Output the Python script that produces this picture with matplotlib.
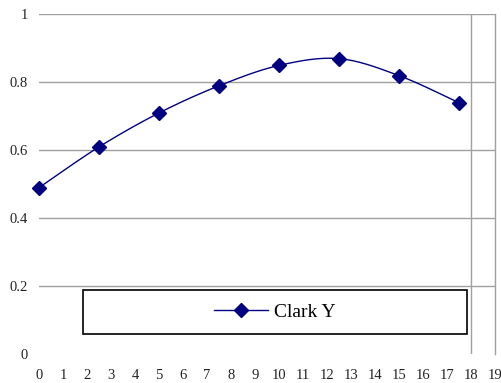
import numpy as np
import matplotlib.pyplot as plt
from matplotlib.patches import Rectangle

# Lift coefficient curve for the Clark Y section
x_vals = [0, 2.5, 5, 7.5, 10, 12.5, 15, 17.5]
y_vals = [0.49, 0.61, 0.71, 0.79, 0.85, 0.87, 0.82, 0.74]
series_name = "Clark Y"

x_ticks = list(range(0, 20))
y_ticks = [0, 0.2, 0.4, 0.6, 0.8, 1]
y_tick_labels = ["0", "0.2", "0.4", "0.6", "0.8", "1"]

navy = "#000080"
grid_gray = "#a0a0a0"


def smooth_curve(xs, ys, steps=30):
    # Catmull-Rom style smoothing between the given points
    xs = np.asarray(xs, float)
    ys = np.asarray(ys, float)
    px = np.concatenate([[xs[0]], xs, [xs[-1]]])
    py = np.concatenate([[ys[0]], ys, [ys[-1]]])
    out_x, out_y = [], []
    t = np.linspace(0, 1, steps)
    for i in range(1, len(px) - 2):
        p0, p1, p2, p3 = (np.array([px[k], py[k]]) for k in (i - 1, i, i + 1, i + 2))
        c1 = p1 + (p2 - p0) / 6
        c2 = p2 - (p3 - p1) / 6
        b = ((1 - t) ** 3)[:, None] * p1 + (3 * (1 - t) ** 2 * t)[:, None] * c1 \
            + (3 * (1 - t) * t ** 2)[:, None] * c2 + (t ** 3)[:, None] * p2
        out_x.extend(b[:, 0])
        out_y.extend(b[:, 1])
    return out_x, out_y


plt.rcParams["font.family"] = ["Liberation Serif", "DejaVu Serif"]

fig = plt.figure(figsize=(5.02, 3.83), dpi=100)
ax = fig.add_axes([39 / 502, 1 - 354 / 383, 456 / 502, 339.5 / 383])

for yv in y_ticks[1:]:
    ax.axhline(yv, color=grid_gray, lw=1.0, zorder=1)
ax.axvline(18, color=grid_gray, lw=1.0, zorder=1)

sx, sy = smooth_curve(x_vals, y_vals)
ax.plot(sx, sy, color=navy, lw=1.0, zorder=3, clip_on=False)
ax.plot(x_vals, y_vals, linestyle="none", marker="D", markersize=7,
        color=navy, zorder=4, clip_on=False)

ax.set_xlim(0, 19)
ax.set_ylim(0, 1)
ax.set_xticks(x_ticks)
ax.set_yticks(y_ticks)
ax.set_yticklabels(y_tick_labels)
ax.tick_params(axis="both", length=0, labelsize=10.5, colors="#222222")
ax.tick_params(axis="x", pad=11)
ax.tick_params(axis="y", pad=8)

for side in ("left", "bottom", "top"):
    ax.spines[side].set_visible(False)
ax.spines["right"].set_color(grid_gray)
ax.spines["right"].set_linewidth(1.0)

# legend box
fig.patches.append(Rectangle((83 / 502, 1 - 334 / 383), 384 / 502, 44 / 383,
                             transform=fig.transFigure, fill=False,
                             edgecolor="black", lw=1.2, zorder=5))
handle, = ax.plot([], [], color=navy, lw=1.0, marker="D", markersize=7,
                  label=series_name)
fig.legend(handles=[handle], loc="center",
           bbox_to_anchor=(275 / 502, 1 - 312 / 383), frameon=False,
           fontsize=14, handlelength=2.8, handletextpad=0.3)

fig.savefig("out.png", dpi=100)
